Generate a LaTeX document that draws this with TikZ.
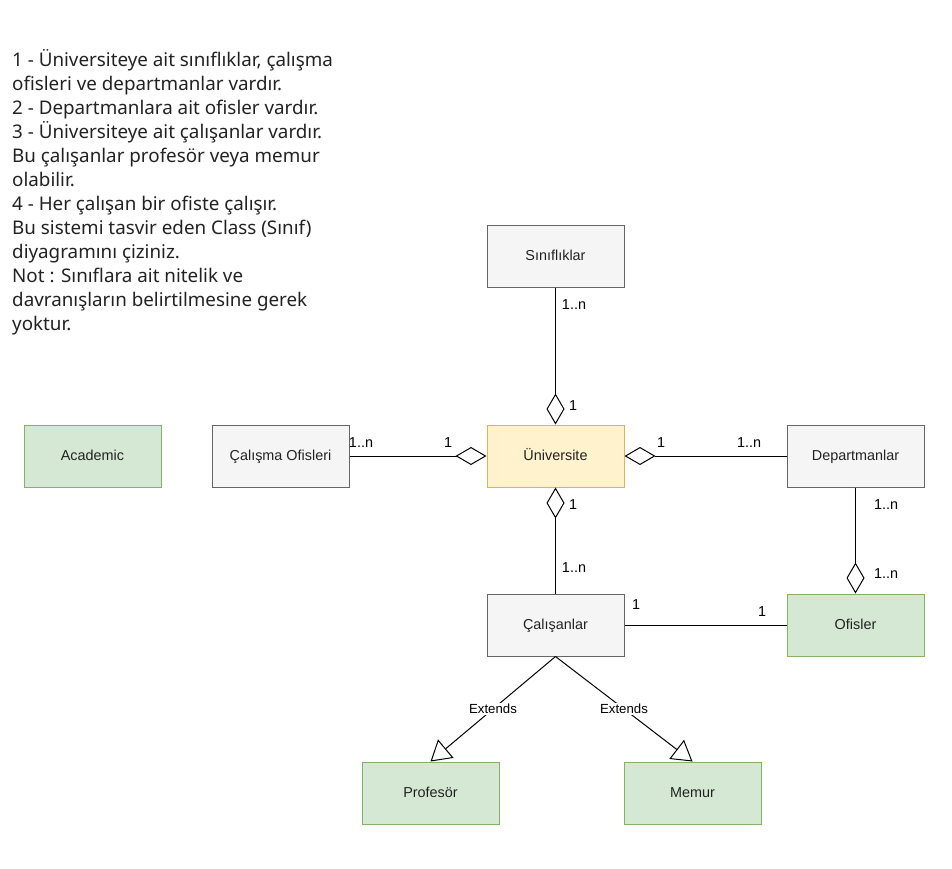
\documentclass[tikz,border=0pt]{standalone}
\usepackage{fontspec}
\setmainfont{Liberation Sans}
\newfontfamily\notefont{Noto Sans}
\usetikzlibrary{arrows.meta}
\definecolor{grayfill}{HTML}{F5F5F5}
\definecolor{graydraw}{HTML}{666666}
\definecolor{greenfill}{HTML}{D5E8D4}
\definecolor{greendraw}{HTML}{82B366}
\definecolor{yellowfill}{HTML}{FFF2CC}
\definecolor{yellowdraw}{HTML}{D6B656}
\definecolor{txt}{HTML}{222222}
\begin{document}
\begin{tikzpicture}[x=1pt,y=1pt,
  box/.style={draw, line width=1pt, minimum width=137pt, minimum height=62pt, inner sep=0pt, text height=10.5pt, text depth=2.5pt, font=\fontsize{14.4}{17}\selectfont, text=txt},
  graybox/.style={box, fill=grayfill, draw=graydraw},
  greenbox/.style={box, fill=greenfill, draw=greendraw},
  yellowbox/.style={box, fill=yellowfill, draw=yellowdraw},
  conn/.style={line width=1pt},
  aggr/.style={conn, -{Diamond[open, length=31pt, width=18pt, line width=1pt]}},
  ext/.style={conn, -{Triangle[open, length=20pt, width=24pt, line width=1pt]}},
  mult/.style={font=\fontsize{14.4}{17}\selectfont, inner sep=0pt},
  extlab/.style={font=\fontsize{13.2}{15}\selectfont, fill=white, inner sep=1pt}
]
\useasboundingbox (0,0) rectangle (952,-868);

\node[anchor=north west, align=left, inner sep=0pt, text=txt, font=\notefont\fontsize{18.8}{24}\selectfont] (note) at (12,-49)
{1 - Üniversiteye ait sınıflıklar, çalışma\\
ofisleri ve departmanlar vardır.\\
2 - Departmanlara ait ofisler vardır.\\
3 - Üniversiteye ait çalışanlar vardır.\\
Bu çalışanlar profesör veya memur\\
olabilir.\\
4 - Her çalışan bir ofiste çalışır.\\
Bu sistemi tasvir eden Class (Sınıf)\\
diyagramını çiziniz.\\
Not : Sınıflara ait nitelik ve\\
davranışların belirtilmesine gerek\\
yoktur.};

\node[graybox] (sinif) at (555.5,-256) {Sınıflıklar};
\node[greenbox] (acad) at (92.5,-456) {Academic};
\node[graybox] (calof) at (280.5,-456) {Çalışma Ofisleri};
\node[yellowbox] (uni) at (555.5,-456) {Üniversite};
\node[graybox] (dep) at (855.5,-456) {Departmanlar};
\node[graybox] (cal) at (555.5,-625) {Çalışanlar};
\node[greenbox] (ofis) at (855.5,-625) {Ofisler};
\node[greenbox] (prof) at (430.5,-793) {Profesör};
\node[greenbox] (mem) at (692.5,-793) {Memur};

\draw[aggr] (sinif.south) -- (uni.north);
\draw[aggr] (calof.east) -- (uni.west);
\draw[aggr] (dep.west) -- (uni.east);
\draw[aggr] (cal.north) -- (uni.south);
\draw[aggr] (dep.south) -- (ofis.north);
\draw[conn] (cal.east) -- (ofis.west);
\draw[ext] (cal.south) -- node[extlab, pos=0.5] (e1) {Extends} (prof.north);
\draw[ext] (cal.south) -- node[extlab, pos=0.5] (e2) {Extends} (mem.north);

\node[mult] (m1) at (574,-305) {1..n};
\node[mult] (m2) at (573,-406) {1};
\node[mult] (m3) at (361,-443) {1..n};
\node[mult] (m4) at (448,-443) {1};
\node[mult] (m5) at (661,-443) {1};
\node[mult] (m6) at (749,-443) {1..n};
\node[mult] (m7) at (573,-505) {1};
\node[mult] (m8) at (574,-568) {1..n};
\node[mult] (m9) at (886,-505) {1..n};
\node[mult] (m10) at (886,-574) {1..n};
\node[mult] (m11) at (636,-605) {1};
\node[mult] (m12) at (762,-612) {1};
\end{tikzpicture}
\end{document}
